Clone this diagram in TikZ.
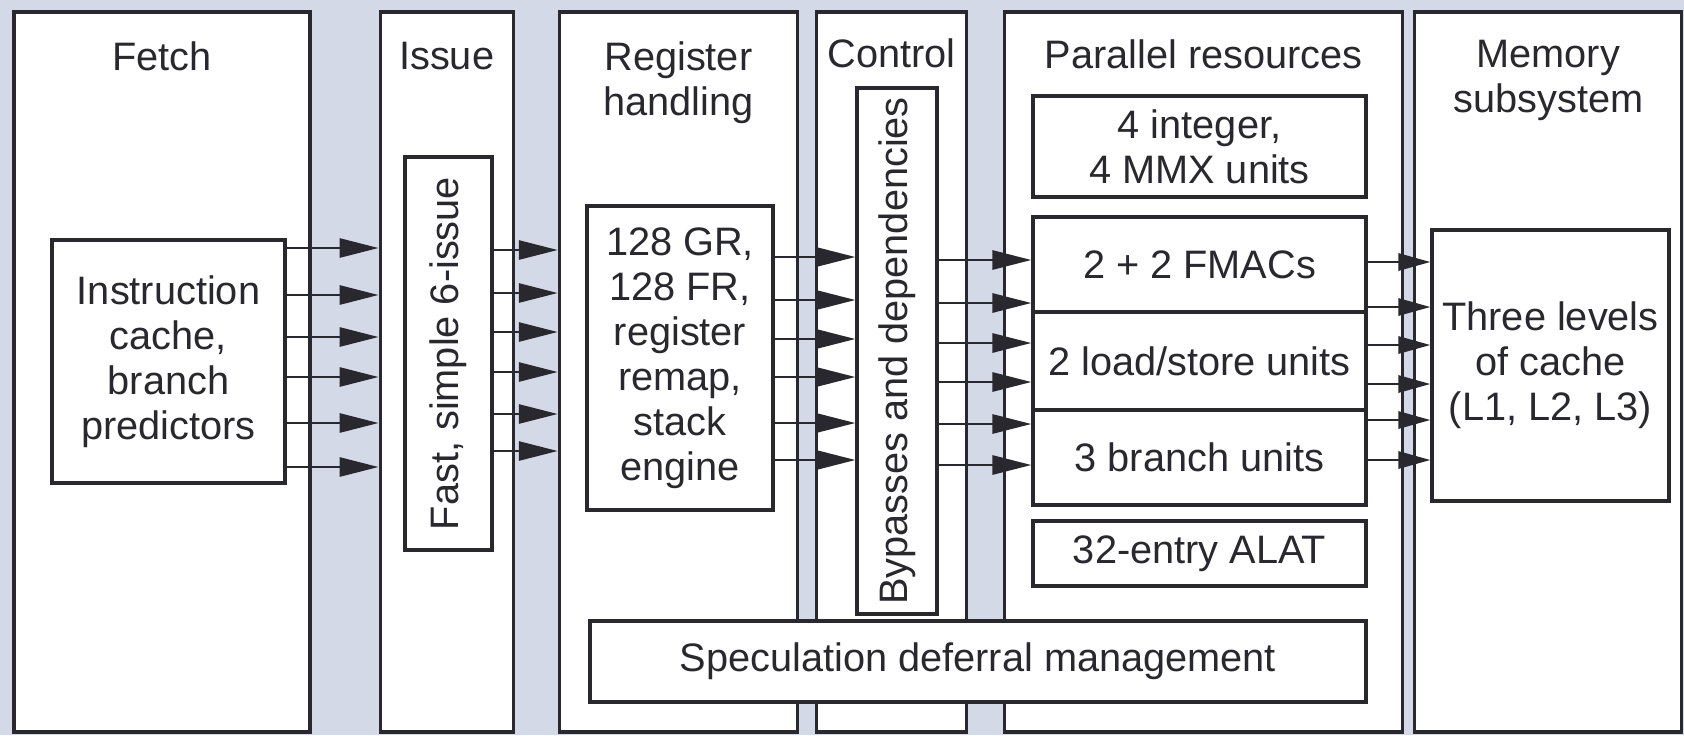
\documentclass[tikz,border=0pt]{standalone}
\usepackage{fontspec}
\setmainfont{Liberation Sans}
\usepackage{graphicx}
\usetikzlibrary{arrows.meta, positioning}

\definecolor{ink}{RGB}{40,40,46}
\definecolor{paper}{RGB}{212,217,232}

\begin{document}
\begin{tikzpicture}[font=\fontsize{11.3}{12.8}\selectfont, text=ink,
    col/.style={draw=ink, line width=0.9pt, fill=white, minimum height=7.2cm, inner sep=0pt},
    box/.style={draw=ink, line width=0.9pt, fill=white, align=center, inner sep=0pt},
    title/.style={align=center, inner sep=0pt},
    flow/.style={draw=ink, line width=0.8pt, -{Triangle[length=3.9mm, width=1.9mm]}},
    memflow/.style={draw=ink, line width=0.8pt, -{Triangle[length=3.2mm, width=1.7mm]}}]

  \fill[paper] (0,0) rectangle (16.84,7.35);
  \useasboundingbox (0,0) rectangle (16.84,7.35);

  % pipeline stages
  \node[col, minimum width=2.96cm] (fetch) at (1.62,3.63) {};
  \node[col, minimum width=1.33cm, right=0.67cm of fetch] (issue) {};
  \node[col, minimum width=2.38cm, right=0.43cm of issue] (reghand) {};
  \node[col, minimum width=1.50cm, right=0.16cm of reghand] (control) {};
  \node[col, minimum width=3.98cm, right=0.35cm of control] (parallel) {};
  \node[col, minimum width=2.67cm, right=0.09cm of parallel] (memory) {};

  \node[title, below=0.31cm of fetch.north] (fetchT) {Fetch};
  \node[title, below=0.31cm of issue.north] (issueT) {Issue};
  \node[title, below=0.31cm of reghand.north] (reghandT) {Register\\handling};
  \node[title, below=0.28cm of control.north] (controlT) {Control};
  \node[title, below=0.29cm of parallel.north] (parallelT) {Parallel resources};
  \node[title, below=0.29cm of memory.north] (memoryT) {Memory\\subsystem};

  % units inside the stages
  \node[box, minimum width=2.33cm, minimum height=2.43cm] (icache) at (1.685,3.735) {Instruction\\cache,\\branch\\predictors};
  \node[box, minimum width=0.87cm, minimum height=3.93cm] (sixissue) at (4.485,3.815) {\rotatebox{90}{Fast, simple 6-issue}};
  \node[box, minimum width=1.86cm, minimum height=3.04cm] (regs) at (6.80,3.77) {128 GR,\\128 FR,\\register\\remap,\\stack\\engine};
  \node[box, minimum width=0.80cm, minimum height=5.26cm] (bypass) at (8.97,3.84) {\rotatebox{90}{Bypasses and dependencies}};
  \node[box, minimum width=3.33cm, minimum height=1.01cm] (intunits) at (11.995,5.885) {4 integer,\\4 MMX units};
  \node[box, minimum width=3.33cm, minimum height=0.95cm] (fmac) at (11.995,4.705) {2 + 2 FMACs};
  \node[box, minimum width=3.33cm, minimum height=0.98cm] (ldst) at (11.995,3.74) {2 load/store units};
  \node[box, minimum width=3.33cm, minimum height=0.95cm] (branch) at (11.995,2.775) {3 branch units};
  \node[box, minimum width=3.33cm, minimum height=0.65cm] (alat) at (11.995,1.815) {32-entry ALAT};
  \node[box, minimum width=7.76cm, minimum height=0.81cm] (specdef) at (9.78,0.735) {Speculation deferral management};
  \node[box, minimum width=2.37cm, minimum height=2.71cm] (cache) at (15.505,3.695) {Three levels\\of cache\\(L1, L2, L3)};

  % six-wide paths
  \foreach \y in {4.87,4.40,3.98,3.58,3.12,2.68}
    \draw[flow] (icache.east |- 0,\y) -- (issue.west |- 0,\y);
  \foreach \y in {4.85,4.42,4.03,3.63,3.21,2.84}
    \draw[flow] (sixissue.east |- 0,\y) -- (reghand.west |- 0,\y);
  \foreach \y in {4.78,4.35,3.96,3.58,3.12,2.75}
    \draw[flow] (regs.east |- 0,\y) -- (bypass.west |- 0,\y);
  \foreach \y in {4.75,4.32,3.92,3.53,3.11,2.70}
    \draw[flow] (bypass.east |- 0,\y) -- (fmac.west |- 0,\y);
  \foreach \y in {4.73,4.28,3.90,3.51,3.15,2.75}
    \draw[memflow] (fmac.east |- 0,\y) -- (cache.west |- 0,\y);
\end{tikzpicture}
\end{document}
